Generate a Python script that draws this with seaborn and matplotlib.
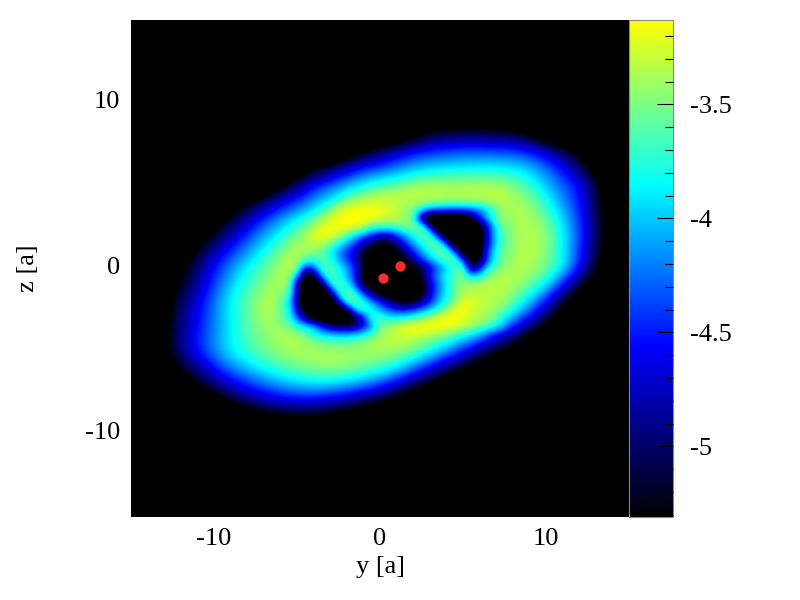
import numpy as np
import seaborn as sns
import matplotlib.pyplot as plt
from matplotlib.colors import LinearSegmentedColormap
from matplotlib.ticker import MultipleLocator
from matplotlib.transforms import Affine2D, ScaledTranslation

# log density, rows go from top to bottom
# values under about -5.3 are all black, they only set how fast the edge falls off
# whole disc: y = -14..14, z = 10..-10, one unit apart
disc_y_start, disc_z_start, disc_step = -14, 10, 1
disc_density = [
    [-6.0]*29,
    [-6.0]*15 + [-5.9, -5.8, -5.7, -5.7, -5.7, -5.7, -5.7, -5.8, -5.9] + [-6.0]*5,
    [-6.0]*15 + [-5.8, -5.5, -5.15, -5.05, -5.0, -5.0, -5.05, -5.05, -5.3, -5.7] + [-6.0]*4,
    [-6.0]*12 + [-5.7, -5.3, -5.0, -4.7, -4.5, -4.4, -4.35, -4.3, -4.3, -4.33, -4.35, -4.45, -4.65, -5.0, -5.4, -5.9, -6.0],
    [-6.0]*9 + [-5.8, -5.3, -5.05, -4.7, -4.45, -4.35, -4.2, -4.05, -3.96, -3.9, -3.88, -3.85, -3.85, -3.88, -4.0, -4.25, -4.55, -4.95, -5.5, -6.0],
    [-6.0]*7 + [-5.9, -5.4, -5.0, -4.55, -4.32, -4.08, -3.85, -3.65, -3.55, -3.38, -3.33, -3.33, -3.33, -3.33, -3.35, -3.5, -3.7, -4.0, -4.28, -4.55, -5.1, -5.7],
    [-6.0]*5 + [-5.75, -5.35, -5.0, -4.7, -4.4, -4.15, -3.9, -3.5, -3.3, -3.28, -3.33, -3.33, -3.38, -3.45, -3.47, -3.42, -3.33, -3.33, -3.45, -3.78, -4.15, -4.5, -5.1, -5.65],
    [-6.0]*4 + [-5.6, -5.2, -4.85, -4.45, -4.18, -3.9, -3.6, -3.35, -3.15, -3.15, -3.3, -3.45, -4.2, -5.2, -5.3, -5.3, -4.9, -3.85, -3.35, -3.35, -3.55, -3.95, -4.4, -5.05, -5.6],
    [-6.0]*2 + [-5.9, -5.6, -5.25, -4.8, -4.43, -4.1, -3.82, -3.55, -3.25, -3.2, -3.5, -3.9, -4.4, -4.0, -3.7, -3.6, -4.8, -5.3, -5.3, -3.9, -3.4, -3.33, -3.4, -3.85, -4.35, -5.0, -5.6],
    [-6.0, -6.0, -5.7, -5.2, -4.8, -4.45, -4.15, -3.82, -3.55, -3.36, -3.5, -3.8, -4.4, -5.2, -5.3, -5.2, -4.4, -3.85, -3.65, -5.0, -5.3, -4.2, -3.36, -3.33, -3.45, -3.85, -4.4, -5.1, -5.6],
    [-6.0, -5.8, -5.4, -5.0, -4.54, -4.17, -3.85, -3.6, -3.36, -3.33, -4.3, -3.6, -4.0, -5.2, -5.3, -5.3, -5.2, -4.7, -4.0, -3.55, -4.6, -3.58, -3.33, -3.33, -3.5, -3.85, -4.5, -5.25, -5.7],
    [-6.0, -5.6, -5.25, -4.85, -4.4, -4.0, -3.7, -3.5, -3.33, -3.4, -5.0, -3.65, -3.75, -4.5, -5.3, -5.3, -5.3, -4.8, -3.9, -3.55, -3.35, -3.33, -3.33, -3.55, -3.85, -4.5, -5.15, -5.6, -6.0],
    [-5.9, -5.55, -5.05, -4.65, -4.25, -3.85, -3.6, -3.33, -3.33, -4.9, -5.3, -4.8, -3.7, -3.7, -4.1, -5.2, -5.2, -4.4, -3.8, -3.3, -3.3, -3.33, -3.55, -3.95, -4.52, -5.15, -5.6, -6.0, -6.0],
    [-5.9, -5.5, -4.95, -4.6, -4.22, -3.87, -3.6, -3.36, -3.45, -4.3, -5.3, -5.3, -5.1, -4.0, -3.7, -3.7, -3.9, -3.3, -3.15, -3.2, -3.33, -3.6, -4.05, -4.52, -5.1, -5.6, -6.0, -6.0, -6.0],
    [-5.8, -5.35, -4.95, -4.5, -4.2, -3.87, -3.65, -3.47, -3.33, -3.45, -3.8, -4.0, -4.05, -3.9, -3.45, -3.3, -3.25, -3.3, -3.45, -3.75, -4.05, -4.5, -4.85, -5.3, -5.7, -6.0, -6.0, -6.0, -6.0],
    [-5.9, -5.45, -4.9, -4.5, -4.18, -3.87, -3.7, -3.55, -3.42, -3.33, -3.33, -3.33, -3.33, -3.33, -3.33, -3.38, -3.52, -3.8, -4.15, -4.5, -4.9, -5.2, -5.5, -5.9] + [-6.0]*5,
    [-6.0, -5.7, -5.2, -4.9, -4.52, -4.2, -3.98, -3.8, -3.65, -3.55, -3.45, -3.42, -3.45, -3.55, -3.65, -3.85, -4.2, -4.56, -4.9, -5.2, -5.55, -5.9] + [-6.0]*7,
    [-6.0, -6.0, -5.7, -5.25, -4.95, -4.7, -4.45, -4.25, -4.1, -3.97, -3.92, -3.92, -4.0, -4.15, -4.35, -4.65, -5.0, -5.3, -5.65, -6.0] + [-6.0]*9,
    [-6.0]*3 + [-5.95, -5.55, -5.2, -4.95, -4.8, -4.65, -4.6, -4.6, -4.7, -4.85, -5.0, -5.2, -5.45, -5.8] + [-6.0]*12,
    [-6.0]*6 + [-5.7, -5.5, -5.4, -5.35, -5.35, -5.45, -5.6, -5.8] + [-6.0]*15,
    [-6.0]*29,
]

# middle part with the two crescents: y = -6..8, z = 5..-5, half a unit apart
core_y_start, core_z_start, core_step = -6, 5, 0.5
core_density = [
    [-5.35, -5.15, -5.0, -4.75, -4.55, -4.45, -4.32, -4.2, -4.08, -3.95, -3.85, -3.75, -3.65, -3.6, -3.55, -3.45, -3.38, -3.35, -3.33, -3.33, -3.33, -3.33, -3.33, -3.33, -3.33, -3.34, -3.35, -3.42, -3.5],
    [-5.05, -4.85, -4.7, -4.55, -4.35, -4.2, -4.1, -3.95, -3.8, -3.65, -3.55, -3.45, -3.38, -3.36, -3.33, -3.33, -3.33, -3.33, -3.33, -3.33, -3.33, -3.33, -3.33, -3.33, -3.33, -3.33, -3.33, -3.33, -3.38],
    [-4.7, -4.55, -4.4, -4.27, -4.12, -3.98, -3.85, -3.65, -3.45, -3.35, -3.3, -3.28, -3.28, -3.3, -3.33, -3.34, -3.33, -3.36, -3.38, -3.42, -3.45, -3.47, -3.47, -3.45, -3.42, -3.38, -3.35, -3.33, -3.33],
    [-4.45, -4.32, -4.18, -4.05, -3.9, -3.72, -3.5, -3.28, -3.18, -3.14, -3.14, -3.15, -3.18, -3.22, -3.3, -3.45, -3.5, -3.9, -4.2, -4.3, -4.35, -4.35, -4.35, -4.3, -4.2, -3.95, -3.6, -3.38, -3.33],
    [-4.18, -4.03, -3.9, -3.75, -3.6, -3.42, -3.25, -3.16, -3.13, -3.13, -3.14, -3.17, -3.22, -3.27, -3.33, -3.38, -3.6, -5.0, -5.8, -5.8, -5.8, -5.8, -5.8, -5.2, -4.5, -3.95, -3.6, -3.38, -3.33],
    [-4.0, -3.85, -3.72, -3.58, -3.42, -3.22, -3.17, -3.14, -3.14, -3.16, -3.25, -3.6, -3.65, -3.68, -3.6, -3.5, -3.45, -3.5, -4.6, -5.8, -5.8, -5.8, -5.8, -5.8, -5.5, -4.6, -3.85, -3.45, -3.33],
    [-3.82, -3.68, -3.55, -3.4, -3.22, -3.15, -3.15, -3.3, -3.55, -3.9, -4.15, -4.45, -4.6, -4.65, -4.4, -4.05, -3.85, -3.62, -3.55, -4.6, -5.7, -5.8, -5.8, -5.8, -5.7, -4.56, -3.9, -3.6, -3.4],
    [-3.65, -3.52, -3.42, -3.38, -3.3, -3.35, -3.5, -3.75, -4.05, -4.4, -4.75, -5.0, -5.3, -5.3, -4.9, -4.5, -4.05, -3.78, -3.6, -3.55, -4.2, -5.8, -5.8, -5.8, -5.5, -4.6, -3.95, -3.5, -3.36],
    [-3.55, -3.42, -3.36, -3.38, -3.45, -3.55, -3.8, -4.15, -4.45, -4.65, -5.2, -5.45, -5.5, -5.5, -5.35, -4.9, -4.5, -4.1, -3.8, -3.6, -3.55, -4.2, -5.6, -5.8, -5.5, -4.3, -3.8, -3.45, -3.36],
    [-3.42, -3.36, -3.38, -3.6, -3.75, -3.6, -3.75, -4.05, -4.4, -4.75, -5.3, -5.5, -5.5, -5.5, -5.5, -5.35, -4.85, -4.45, -4.05, -3.8, -3.6, -3.55, -4.3, -5.5, -5.3, -4.3, -3.8, -3.42, -3.35],
    [-3.36, -3.33, -3.38, -4.6, -4.3, -3.7, -3.6, -3.78, -4.02, -4.45, -5.2, -5.5, -5.5, -5.5, -5.5, -5.5, -5.4, -5.2, -4.7, -4.3, -4.0, -3.7, -3.55, -5.1, -4.6, -3.85, -3.58, -3.4, -3.33],
    [-3.33, -3.38, -4.0, -5.4, -5.4, -4.0, -3.65, -3.75, -4.05, -4.5, -5.35, -5.5, -5.5, -5.5, -5.5, -5.5, -5.5, -5.15, -4.5, -4.1, -3.8, -3.6, -3.5, -3.9, -3.85, -3.5, -3.4, -3.33, -3.33],
    [-3.33, -3.45, -4.8, -5.7, -5.7, -5.3, -3.85, -3.6, -3.75, -4.3, -5.2, -5.5, -5.5, -5.5, -5.5, -5.5, -5.5, -5.5, -4.8, -4.25, -3.9, -3.6, -3.42, -3.4, -3.33, -3.33, -3.33, -3.33, -3.33],
    [-3.35, -3.55, -4.6, -5.8, -5.8, -5.8, -5.0, -3.85, -3.55, -3.75, -4.3, -5.0, -5.5, -5.5, -5.5, -5.5, -5.5, -5.4, -4.7, -4.2, -3.85, -3.55, -3.35, -3.35, -3.33, -3.33, -3.35, -3.38, -3.4],
    [-3.4, -3.8, -4.9, -5.8, -5.8, -5.8, -5.8, -4.6, -3.6, -3.6, -3.8, -4.15, -4.5, -4.9, -5.3, -5.5, -5.3, -5.0, -4.56, -4.1, -3.8, -3.55, -3.2, -3.18, -3.28, -3.33, -3.33, -3.42, -3.55],
    [-3.42, -3.7, -4.6, -5.4, -5.8, -5.8, -5.8, -5.8, -5.0, -3.85, -3.6, -3.8, -4.1, -4.3, -4.5, -4.55, -4.4, -4.2, -4.0, -3.75, -3.45, -3.2, -3.13, -3.25, -3.33, -3.36, -3.42, -3.6, -3.7],
    [-3.45, -3.7, -4.3, -4.9, -5.6, -5.8, -5.8, -5.8, -5.8, -5.3, -4.6, -3.7, -3.7, -3.85, -3.85, -3.8, -3.7, -3.55, -3.35, -3.2, -3.13, -3.13, -3.18, -3.33, -3.33, -3.42, -3.6, -3.85, -4.05],
    [-3.38, -3.5, -3.75, -3.9, -4.0, -4.5, -4.9, -5.1, -5.1, -5.0, -4.6, -4.2, -3.5, -3.45, -3.3, -3.2, -3.15, -3.12, -3.12, -3.13, -3.15, -3.2, -3.28, -3.38, -3.5, -3.65, -3.82, -4.05, -4.3],
    [-3.33, -3.36, -3.45, -3.6, -3.8, -3.95, -4.0, -4.05, -4.05, -3.98, -3.9, -3.65, -3.45, -3.35, -3.28, -3.25, -3.22, -3.25, -3.3, -3.38, -3.45, -3.6, -3.75, -3.9, -4.05, -4.28, -4.5, -4.7, -4.85],
    [-3.36, -3.33, -3.36, -3.38, -3.45, -3.5, -3.55, -3.55, -3.55, -3.5, -3.45, -3.38, -3.33, -3.32, -3.33, -3.35, -3.42, -3.5, -3.6, -3.7, -3.8, -3.98, -4.12, -4.25, -4.45, -4.65, -4.85, -5.0, -5.15],
    [-3.42, -3.36, -3.33, -3.33, -3.33, -3.33, -3.33, -3.33, -3.33, -3.33, -3.33, -3.33, -3.33, -3.35, -3.38, -3.42, -3.52, -3.65, -3.8, -3.97, -4.15, -4.32, -4.5, -4.7, -4.9, -5.05, -5.2, -5.35, -5.5],
]

star_y = [1.2, 0.18]
star_z = [0.16, -0.58]

x_ticks = [-10, 0, 10]
x_tick_labels = ['-10', '0', '10']
z_ticks = [-10, 0, 10]
z_tick_labels = ['-10', '0', '10']
bar_ticks = [-5, -4.5, -4, -3.5]
bar_tick_labels = ['-5', '-4.5', '-4', '-3.5']
bar_min, bar_max = -5.31, -3.13
palette_stops = [(0.0, '#000000'), (0.344, '#0000ff'), (0.67, '#00ffff'), (1.0, '#ffff00')]

sns.set_theme(style="white", rc={'text.color': 'black', 'axes.labelcolor': 'black',
                                 'xtick.color': 'black', 'ytick.color': 'black'})
plt.rcParams['font.family'] = ['Liberation Serif', 'DejaVu Serif']
plt.rcParams['font.size'] = 19

cmap = LinearSegmentedColormap.from_list("disc", palette_stops, N=512)

fig = plt.figure(figsize=(8, 6), dpi=100)
ax = fig.add_axes([131/800, 1 - 517/600, 498/800, 497/600])
cax = fig.add_axes([629/800, 1 - 517/600, 44/800, 497/600])
ax.set_facecolor('black')

disc = np.array(disc_density)
core = np.array(core_density)

# heatmap gives the axes and the colorbar, the images on top smooth the grid
disc_shift = Affine2D().scale(disc_step, -disc_step).translate(disc_y_start - 0.5, disc_z_start + 0.5) + ax.transData
sns.heatmap(disc, ax=ax, cbar_ax=cax, cmap=cmap, vmin=bar_min, vmax=bar_max,
            xticklabels=False, yticklabels=False, transform=disc_shift)

disc_extent = (disc_y_start - disc_step/2, disc_y_start + (disc.shape[1] - 0.5)*disc_step,
               disc_z_start - (disc.shape[0] - 0.5)*disc_step, disc_z_start + disc_step/2)
ax.imshow(disc, extent=disc_extent, cmap=cmap, vmin=bar_min, vmax=bar_max, aspect='auto',
          interpolation='bicubic', interpolation_stage='data', zorder=2)

# border of the core fades out so there is no seam against the disc
core_alpha = np.ones(core.shape)
core_alpha[[0, -1], :] = 0
core_alpha[:, [0, -1]] = 0
core_extent = (core_y_start - core_step/2, core_y_start + (core.shape[1] - 0.5)*core_step,
               core_z_start - (core.shape[0] - 0.5)*core_step, core_z_start + core_step/2)
ax.imshow(core, extent=core_extent, cmap=cmap, vmin=bar_min, vmax=bar_max, aspect='auto', alpha=core_alpha,
          interpolation='bicubic', interpolation_stage='data', zorder=3)

sns.scatterplot(x=star_y, y=star_z, ax=ax, color='#f03030', s=55, linewidth=0, zorder=5, legend=False)

ax.set_xlim(-15, 15)
ax.set_ylim(-15, 15)
ax.set_xticks(x_ticks)
ax.set_xticklabels(x_tick_labels)
ax.set_yticks(z_ticks)
ax.set_yticklabels(z_tick_labels)
ax.tick_params(axis='both', labelsize=19, length=0, pad=8)
ax.set_xlabel('y [a]', fontsize=19, labelpad=4, visible=True)
ax.set_ylabel('z [a]', fontsize=19, labelpad=33, visible=True)
for label in ax.get_yticklabels():
    label.set_transform(label.get_transform() + ScaledTranslation(0, 3.5/100, fig.dpi_scale_trans))

cbar = ax.collections[0].colorbar
cbar.set_ticks(bar_ticks)
cbar.set_ticklabels(bar_tick_labels)
cax.set_axisbelow(False)
cax.yaxis.set_minor_locator(MultipleLocator(0.1))
cax.tick_params(axis='y', which='major', direction='in', length=11.5, width=0.8,
                labelsize=19, pad=12, right=True, left=False)
cax.tick_params(axis='y', which='minor', direction='in', length=5.8, width=0.8,
                right=True, left=False)
cbar.outline.set_visible(True)
cbar.outline.set_linewidth(0.8)
cbar.outline.set_edgecolor('#888888')

fig.savefig('out.png', dpi=100)
